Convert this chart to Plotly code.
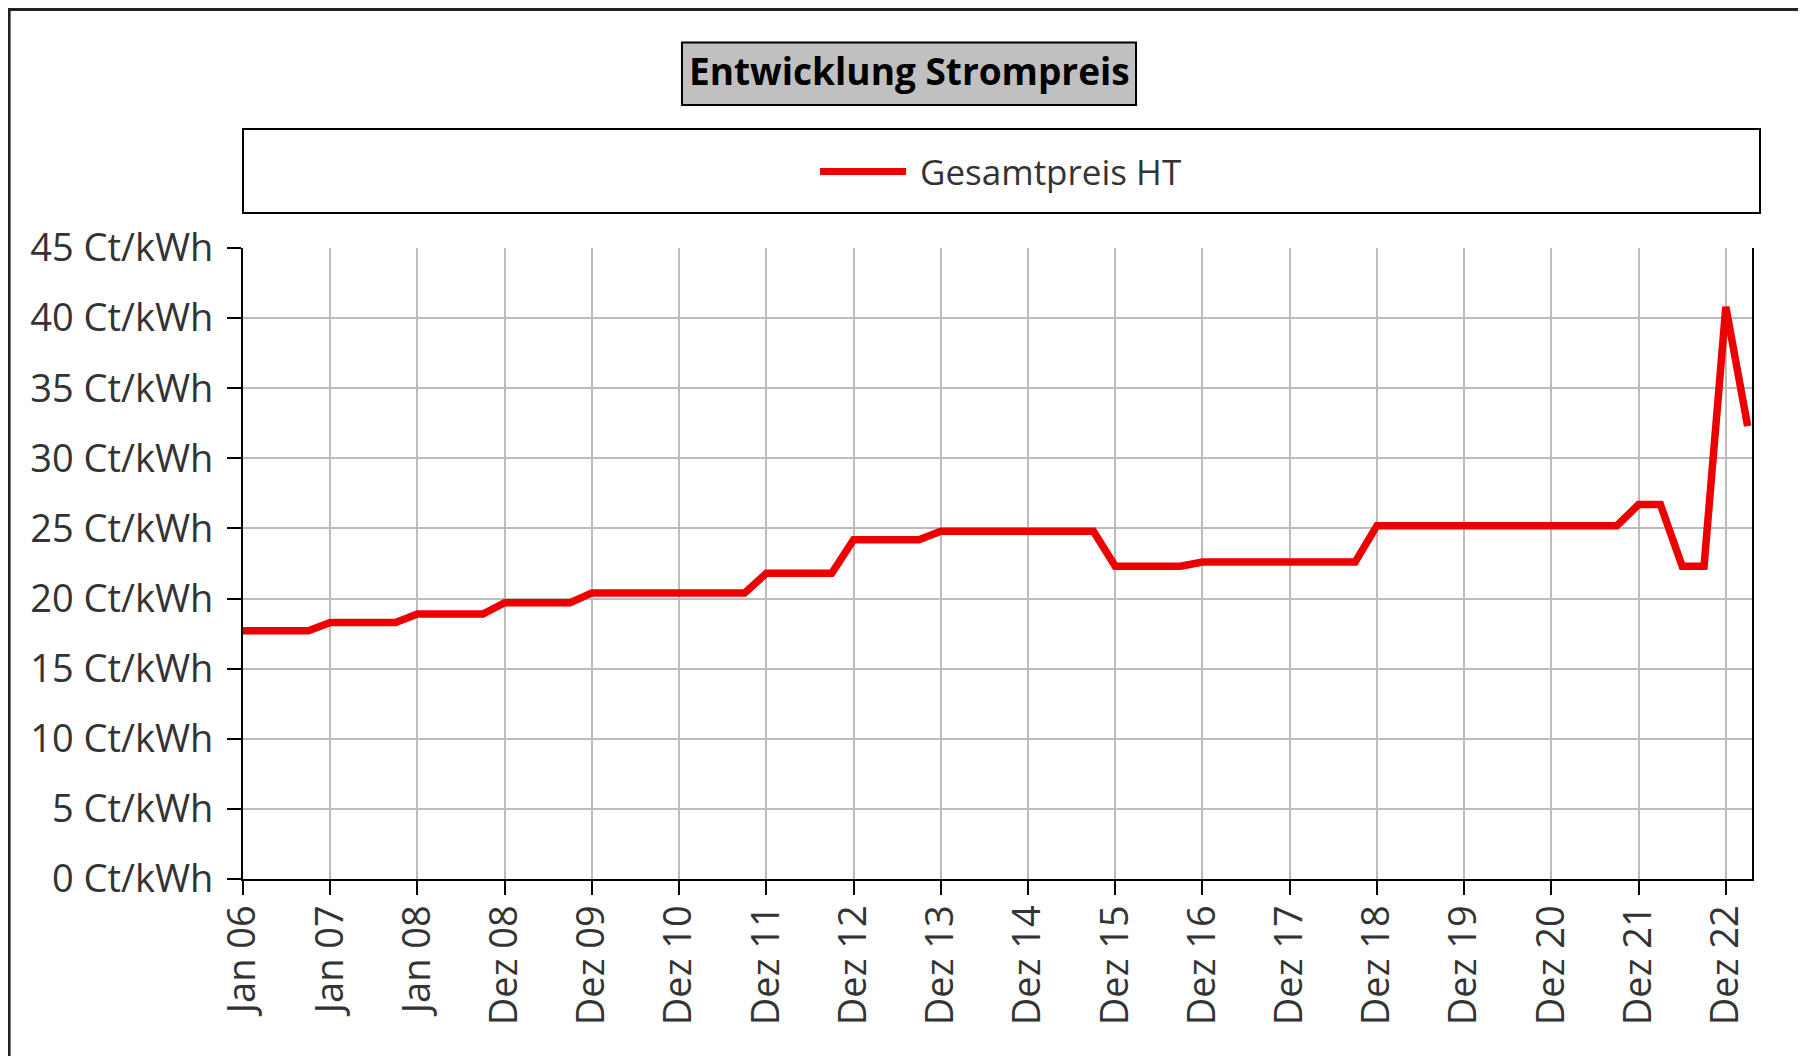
import plotly.graph_objects as go

# price steps, one value per point on the category axis (4 points per labelled tick)
price = [17.7, 17.7, 17.7, 17.7,
         18.3, 18.3, 18.3, 18.3,
         18.9, 18.9, 18.9, 18.9,
         19.7, 19.7, 19.7, 19.7,
         20.4, 20.4, 20.4, 20.4, 20.4, 20.4, 20.4, 20.4,
         21.8, 21.8, 21.8, 21.8,
         24.2, 24.2, 24.2, 24.2,
         24.8, 24.8, 24.8, 24.8, 24.8, 24.8, 24.8, 24.8,
         22.3, 22.3, 22.3, 22.3,
         22.6, 22.6, 22.6, 22.6, 22.6, 22.6, 22.6, 22.6,
         25.2, 25.2, 25.2, 25.2, 25.2, 25.2, 25.2, 25.2, 25.2, 25.2, 25.2, 25.2,
         26.7, 26.7,
         22.3, 22.3,
         40.8, 32.3]
point_idx = list(range(len(price)))

tick_labels = ["Jan 06", "Jan 07", "Jan 08", "Dez 08", "Dez 09", "Dez 10", "Dez 11",
               "Dez 12", "Dez 13", "Dez 14", "Dez 15", "Dez 16", "Dez 17", "Dez 18",
               "Dez 19", "Dez 20", "Dez 21", "Dez 22"]
tick_pos = point_idx[::4][:len(tick_labels)]

y_ticks = [0, 5, 10, 15, 20, 25, 30, 35, 40, 45]
y_labels = [f"{v} Ct/kWh" for v in y_ticks]

FONT = "Open Sans"
RED = "#ec0000"

fig = go.Figure()
fig.add_trace(go.Scatter(x=point_idx, y=price, mode="lines", name="Gesamtpreis HT",
                         line=dict(color=RED, width=7.5), showlegend=False))

# page body adds ~8px, margins are compensated for that
fig.update_layout(
    width=1806, height=1056,
    margin=dict(l=235, r=62, t=240, b=185),
    paper_bgcolor="white", plot_bgcolor="white",
    font=dict(family=FONT, color="#333333"),
)
fig.update_xaxes(range=[0, 69.2], tickmode="array", tickvals=tick_pos, ticktext=tick_labels,
                 tickangle=-90, tickfont=dict(size=38, color="#333333"),
                 showgrid=True, gridcolor="#bcbcbc", gridwidth=2,
                 showline=True, linecolor="black", linewidth=2,
                 ticks="outside", ticklen=14, tickwidth=2, tickcolor="black",
                 ticklabelstandoff=-5, zeroline=False)
fig.update_yaxes(range=[0, 45], tickmode="array", tickvals=y_ticks, ticktext=y_labels,
                 tickfont=dict(size=38, color="#333333"),
                 showgrid=True, gridcolor="#bcbcbc", gridwidth=2,
                 showline=True, linecolor="black", linewidth=2, mirror=True,
                 ticks="outside", ticklen=14, tickwidth=2, tickcolor="black",
                 ticklabelstandoff=6, zeroline=False)

# outer frame
fig.add_shape(type="rect", xref="paper", yref="paper", x0=-0.155, x1=1.04, y0=-0.29, y1=1.378,
              line=dict(color="#222222", width=3), fillcolor="rgba(0,0,0,0)", layer="below")
# title box
fig.add_shape(type="rect", xref="paper", yref="paper", x0=0.2909, x1=0.5918, y0=1.2266, y1=1.3255,
              line=dict(color="black", width=2), fillcolor="#c0c0c0")
fig.add_annotation(text="<b>Entwicklung Strompreis</b>", xref="paper", yref="paper",
                   x=0.4414, y=1.281, showarrow=False, xanchor="center", yanchor="middle",
                   font=dict(family=FONT, size=37, color="black"))
# legend box
fig.add_shape(type="rect", xref="paper", yref="paper", x0=0, x1=1.0053, y0=1.0555, y1=1.1886,
              line=dict(color="black", width=2), fillcolor="white")
fig.add_shape(type="line", xref="paper", yref="paper", x0=0.3824, x1=0.4394, y0=1.1211, y1=1.1211,
              line=dict(color=RED, width=7))
fig.add_annotation(text="Gesamtpreis HT", xref="paper", yref="paper",
                   x=0.4473, y=1.1211, showarrow=False, xanchor="left", yanchor="middle",
                   font=dict(family=FONT, size=35, color="#333333"))

fig.write_html("out.html")
